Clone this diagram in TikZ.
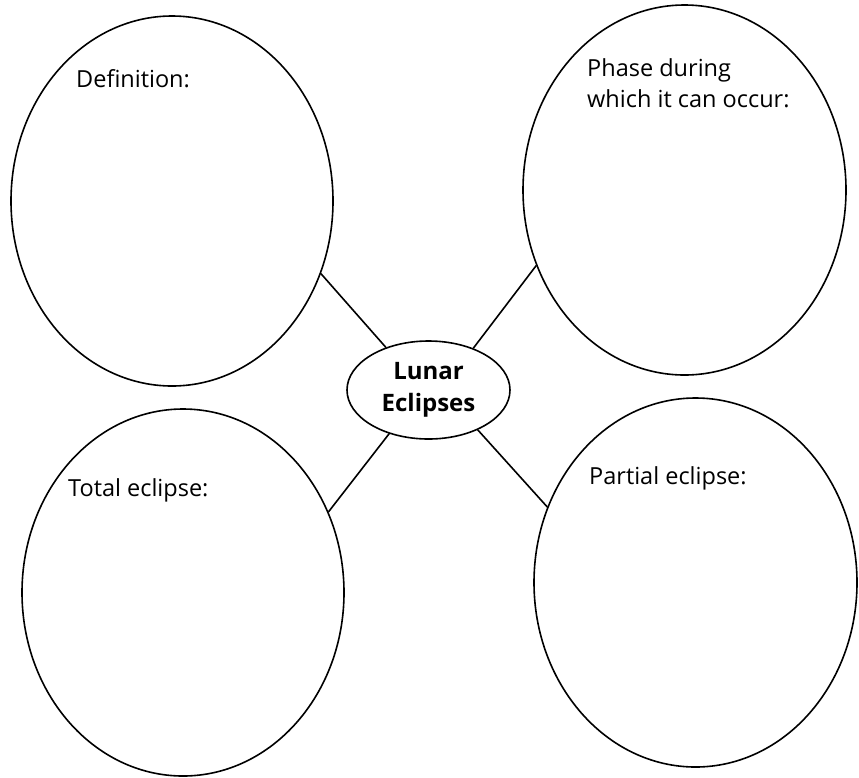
\documentclass[tikz,border=0pt]{standalone}
\usepackage{fontspec}
\setmainfont{Open Sans}
\usetikzlibrary{shapes.geometric}
\tikzset{
  bubble/.style={ellipse, draw=black, line width=1.6pt, inner sep=0pt},
  label/.style={anchor=base west, inner sep=0pt, font=\fontsize{23.5}{31}\selectfont},
  link/.style={line width=1.6pt}
}
\begin{document}
\begin{tikzpicture}[x=1pt,y=-1pt]
\useasboundingbox (0,0) rectangle (859,777);
\node[bubble, minimum width=322pt, minimum height=370pt] (def) at (172,201) {};
\node[bubble, minimum width=323pt, minimum height=370pt] (phase) at (684.5,190) {};
\node[bubble, minimum width=322pt, minimum height=367pt] (total) at (183,592.5) {};
\node[bubble, minimum width=323pt, minimum height=369pt] (partial) at (695.5,582.5) {};
\node[bubble, minimum width=163pt, minimum height=98pt, align=center,
  font=\fontsize{24}{32}\selectfont\bfseries] (lunar) at (428.5,390) {Lunar\\Eclipses};
\draw[link] (lunar.135) -- (def.-26);
\draw[link] (lunar.43) -- (phase.207.6);
\draw[link] (lunar.228.6) -- (total.29);
\draw[link] (lunar.-39) -- (partial.153);
\node[label] (tdef) at (76,87) {Definition:};
\node[label] (tphase1) at (587,76) {Phase during};
\node[label] (tphase2) at (587,107) {which it can occur:};
\node[label] (ttotal) at (68,496) {Total eclipse:};
\node[label] (tpartial) at (589,484) {Partial eclipse:};
\end{tikzpicture}
\end{document}
